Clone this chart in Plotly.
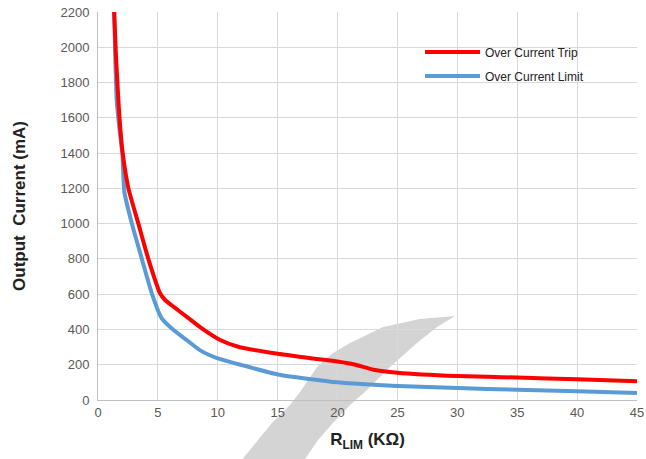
import plotly.graph_objects as go

# Data
trip_r = [1.35, 1.5, 1.7, 1.85, 2.06, 2.54, 3.37, 4.2, 5.18, 5.6, 6.3, 7.5, 8.67, 10.2, 11.7, 15, 18, 20, 21.5, 23, 25, 30, 35, 40, 45]
trip_i = [2200, 1950, 1700, 1550, 1400, 1200, 1000, 800, 605, 567, 529, 467, 406, 340, 302, 262, 235, 218, 200, 172, 155, 136, 127, 118, 106]

limit_r = [1.35, 1.56, 1.8, 2.03, 2.2, 2.82, 3.65, 4.49, 5.32, 6.16, 7.4, 8.5, 10, 12, 15, 20, 25, 30, 35, 40, 45]
limit_i = [2200, 1700, 1530, 1400, 1180, 1002, 803, 605, 463, 406, 340, 283, 236, 198, 145, 100, 79, 68, 58, 50, 40]

x_ticks = [0, 5, 10, 15, 20, 25, 30, 35, 40, 45]
y_ticks = [0, 200, 400, 600, 800, 1000, 1200, 1400, 1600, 1800, 2000, 2200]

W, H = 646, 459
ML, MR, MT, MB = 98, 9, 12, 59
PW, PH = W - ML - MR, H - MT - MB


def px(sx, sy):
    """screen pixel -> paper coordinates"""
    return (sx - ML) / PW, (H - MB - sy) / PH


# watermark swoosh outline (screen pixel positions)
outline = [(240, 462), (258, 440), (272, 423), (290, 405), (300, 392), (317, 367),
           (333, 353), (350, 343), (383, 327), (420, 319), (455, 316),
           (437, 327), (417, 343), (390, 367), (367, 390), (350, 405),
           (333, 423), (318, 440), (303, 462)]
pts = [px(a, b) for a, b in outline]
path = "M " + " L ".join("{:.4f},{:.4f}".format(a, b) for a, b in pts) + " Z"

fig = go.Figure()
fig.add_trace(go.Scatter(x=limit_r, y=limit_i, mode="lines", name="Over Current Limit",
                         line=dict(color="#5b9bd5", width=4, shape="spline", smoothing=0.5),
                         legend="legend2"))
fig.add_trace(go.Scatter(x=trip_r, y=trip_i, mode="lines", name="Over Current Trip",
                         line=dict(color="#ff0000", width=4, shape="spline", smoothing=0.5),
                         legend="legend"))

fig.add_shape(type="path", path=path, xref="paper", yref="paper",
              fillcolor="#d4d4d4", line=dict(width=0), layer="below")

leg_common = dict(xanchor="left", yanchor="middle", bgcolor="rgba(0,0,0,0)",
                  font=dict(size=12, color="#222222"), itemwidth=55)
fig.update_layout(
    width=W, height=H,
    margin=dict(l=ML, r=MR, t=MT, b=MB, autoexpand=False),
    paper_bgcolor="white",
    plot_bgcolor="rgba(0,0,0,0)",
    font=dict(family="Liberation Sans, Arial, sans-serif", color="#595959", size=13),
    showlegend=True,
    legend=dict(x=px(420, 0)[0], y=px(0, 52)[1], **leg_common),
    legend2=dict(x=px(420, 0)[0], y=px(0, 76)[1], **leg_common),
)
fig.update_xaxes(range=[0, 45], tickvals=x_ticks, ticktext=[str(v) for v in x_ticks],
                 showgrid=True, gridcolor="#d9d9d9", gridwidth=1, automargin=False,
                 showline=True, linecolor="#bfbfbf", zeroline=False, ticks="",
                 ticklabeloverflow="allow",
                 title=dict(text="<b>R<sub>LIM</sub> (KΩ)</b>", font=dict(size=17, color="#222222"),
                            standoff=14))
fig.update_yaxes(range=[0, 2200], tickvals=y_ticks, ticktext=[str(v) for v in y_ticks],
                 showgrid=True, gridcolor="#d9d9d9", gridwidth=1, automargin=False,
                 showline=True, linecolor="#bfbfbf", zeroline=False, ticks="",
                 ticklabelstandoff=5, ticklabeloverflow="allow",
                 title=dict(text="<b>Output  Current (mA)</b>", font=dict(size=17, color="#222222"),
                            standoff=30))

fig.write_html("out.html", config={"displayModeBar": False},
               post_script="document.body.style.margin='0px';document.body.style.overflow='hidden';")
